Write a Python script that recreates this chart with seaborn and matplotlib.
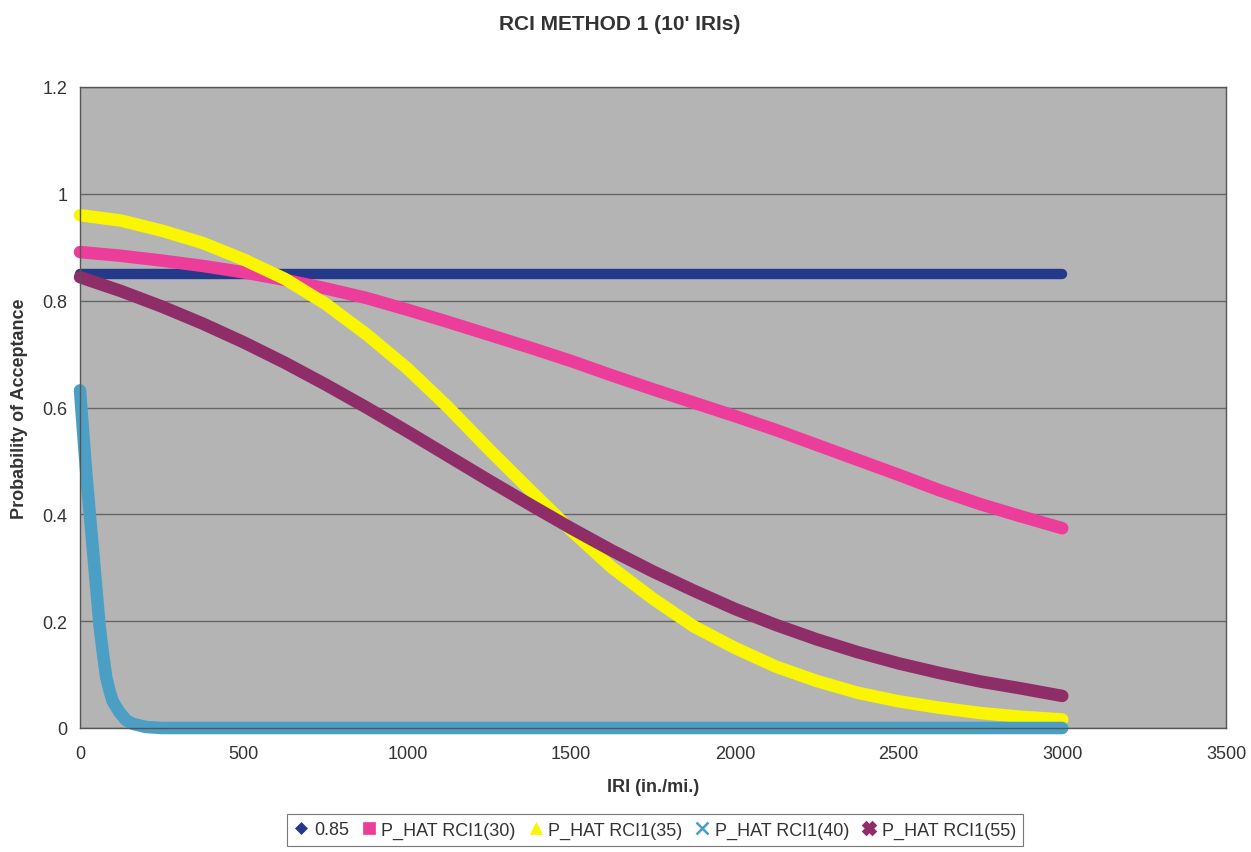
import matplotlib
matplotlib.use("Agg")
import matplotlib.pyplot as plt
from matplotlib.lines import Line2D
from matplotlib.ticker import FuncFormatter, MultipleLocator
import pandas as pd
import seaborn as sns

# IRI (in./mi.) sample points shared by the smooth acceptance curves
iri = [0, 125, 250, 375, 500, 625, 750, 875, 1000, 1125, 1250, 1375, 1500,
       1625, 1750, 1875, 2000, 2125, 2250, 2375, 2500, 2625, 2750, 2875, 3000]

# Probability of acceptance, RCI method 1 (10' IRIs)
p_hat_30 = [0.891, 0.884, 0.875, 0.865, 0.853, 0.839, 0.823, 0.805, 0.783, 0.760, 0.736, 0.712, 0.687,
            0.660, 0.634, 0.609, 0.584, 0.558, 0.530, 0.502, 0.474, 0.445, 0.419, 0.396, 0.374]
p_hat_35 = [0.960, 0.950, 0.931, 0.908, 0.877, 0.841, 0.794, 0.737, 0.673, 0.600, 0.521, 0.445, 0.370,
            0.300, 0.242, 0.190, 0.150, 0.115, 0.088, 0.066, 0.050, 0.038, 0.028, 0.021, 0.016]
p_hat_55 = [0.844, 0.818, 0.789, 0.757, 0.722, 0.684, 0.643, 0.600, 0.555, 0.509, 0.463, 0.418, 0.374,
            0.332, 0.293, 0.257, 0.223, 0.193, 0.166, 0.142, 0.121, 0.103, 0.087, 0.074, 0.060]

# RCI1(40) drops off within the first few hundred in./mi.
iri_40 = [0, 10, 20, 30, 40, 50, 60, 70, 80, 90, 100, 120, 140, 160, 200, 250, 500, 1000, 1500, 2000, 2500, 3000]
p_hat_40 = [0.632, 0.550, 0.470, 0.400, 0.330, 0.260, 0.190, 0.140, 0.095, 0.070, 0.050, 0.030, 0.015, 0.008,
            0.002, 0.0, 0.0, 0.0, 0.0, 0.0, 0.0, 0.0]

# Target acceptance level
iri_target = [0, 3000]
target = [0.85, 0.85]

series_labels = ["0.85", "P_HAT RCI1(30)", "P_HAT RCI1(35)", "P_HAT RCI1(40)", "P_HAT RCI1(55)"]
colors = ["#24398A", "#EC3D9B", "#FAF500", "#4C9FC4", "#8F2D68"]
markers = ["D", "s", "^", "x", "X"]

sns.set_style("white")
plt.rcParams["font.family"] = ["Liberation Sans", "DejaVu Sans"]

fig = plt.figure(figsize=(12.51, 8.53), dpi=100)
ax = fig.add_axes([80 / 1251, 1 - 729 / 853, 1146 / 1251, 641 / 853])
ax.set_facecolor("#B4B4B4")

frames = [
    (iri_target, target),
    (iri, p_hat_30),
    (iri, p_hat_35),
    (iri_40, p_hat_40),
    (iri, p_hat_55),
]
widths = [7.5, 9, 9, 9, 9]
for (xs, ys), col, lw in zip(frames, colors, widths):
    df = pd.DataFrame({"IRI": xs, "P": ys})
    sns.lineplot(data=df, x="IRI", y="P", ax=ax, color=col, linewidth=lw,
                 solid_capstyle="round", solid_joinstyle="round", legend=False)
for ln in ax.get_lines():
    ln.set_clip_on(False)

ax.set_xlim(0, 3500)
ax.set_ylim(0, 1.2)
ax.xaxis.set_major_locator(MultipleLocator(500))
ax.yaxis.set_major_locator(MultipleLocator(0.2))
ax.yaxis.set_major_formatter(FuncFormatter(lambda v, p: f"{v:g}"))
ax.yaxis.grid(True, color="#666666", linewidth=1.0)
ax.xaxis.grid(False)
ax.set_axisbelow(True)
for sp in ax.spines.values():
    sp.set_color("#555555")
    sp.set_linewidth(1.0)
ax.tick_params(axis="both", which="major", labelsize=13, colors="#333333",
               direction="out", length=4, width=1, pad=5)
ax.tick_params(axis="x", pad=8)

ax.set_xlabel("IRI (in./mi.)", fontsize=13, fontweight="bold", color="#333333", labelpad=12)
ax.set_ylabel("Probability of Acceptance", fontsize=13, fontweight="bold", color="#333333", labelpad=10)
fig.text(620 / 1251, 1 - 25 / 853, "RCI METHOD 1 (10' IRIs)", ha="center", va="center",
         fontsize=15, fontweight="bold", color="#333333")

handles = [Line2D([], [], linestyle="none", marker=m, color=c, markersize=8 if m != "D" else 6,
                  markeredgewidth=1.8 if m in ("x", "X") else 0.5)
           for m, c in zip(markers, colors)]
leg = fig.legend(handles, series_labels, loc="center", bbox_to_anchor=(655 / 1251, 1 - 831 / 853),
                 ncol=5, frameon=True, fancybox=False, fontsize=13, handlelength=0.8,
                 handletextpad=0.3, columnspacing=0.7, borderpad=0.4)
leg.get_frame().set_edgecolor("#555555")
leg.get_frame().set_linewidth(0.8)
for t in leg.get_texts():
    t.set_color("#333333")

fig.savefig("out.png", dpi=100, facecolor="white")
